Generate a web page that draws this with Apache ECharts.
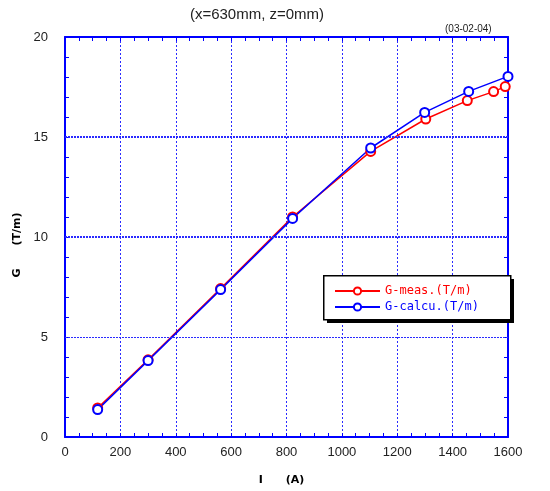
<!DOCTYPE html>
<html>
<head>
<meta charset="utf-8">
<script src="https://cdn.jsdelivr.net/npm/echarts@6/dist/echarts.min.js"></script>
<style>html,body{margin:0;padding:0;background:#fff}#c{width:550px;height:491px}</style>
</head>
<body>
<div id="c"></div>
<script>
var titleText = '(x=630mm, z=0mm)';
var dateText = '(03-02-04)';
var xName = 'I      (A)';
var yName = 'G      (T/m)';
var measName = 'G-meas.(T/m)';
var calcName = 'G-calcu.(T/m)';
var measI = [118, 300, 562, 822, 1104, 1303, 1453, 1548, 1590];
var measG = [1.45, 3.86, 7.42, 11.0, 14.28, 15.9, 16.82, 17.27, 17.52];
var calcI = [118, 300, 562, 822, 1104, 1299, 1458, 1600];
var calcG = [1.37, 3.82, 7.37, 10.93, 14.45, 16.23, 17.28, 18.03];
var hGrid = [5, 10, 15];
var hGridWidth = [1, 2, 2];

function pairs(a, b) { return a.map(function (v, i) { return [v, b[i]]; }); }

var blue = '#0000ff';
var gridBlue = '#2a2aff';
var chart = echarts.init(document.getElementById('c'), null, {renderer: 'canvas'});
var axisCommon = {
  min: 0,
  axisLine: {show: true, onZero: false, lineStyle: {color: blue, width: 2}},
  axisTick: {show: true, inside: true, length: 4, lineStyle: {color: blue}},
  minorTick: {show: true, length: 4, lineStyle: {color: blue}}
};
chart.setOption({
  animation: false,
  title: [
    {text: titleText, left: 252, top: 2, textAlign: 'center',
     textStyle: {fontFamily: 'Liberation Sans', fontSize: 15, fontWeight: 'normal', color: '#222'}},
    {text: dateText, left: 440, top: 19,
     textStyle: {fontFamily: 'Liberation Sans', fontSize: 10, fontWeight: 'normal', color: '#222'}}
  ],
  grid: {left: 65, right: 42, top: 37, bottom: 53},
  graphic: [
    {type: 'rect', left: 327, top: 279, z: 50, silent: true,
     shape: {width: 187, height: 44}, style: {fill: '#000'}},
    {type: 'rect', left: 323, top: 275, z: 51, silent: true,
     shape: {width: 187, height: 44}, style: {fill: '#fff', stroke: '#000', lineWidth: 1.5}}
  ],
  legend: {
    orient: 'vertical', left: 324, top: 277, z: 60,
    padding: [8, 10, 8, 10], itemGap: 4, itemWidth: 45, itemHeight: 9,
    textStyle: {fontFamily: 'DejaVu Sans Mono', fontSize: 12},
    data: [
      {name: measName, textStyle: {color: '#ff0000'}},
      {name: calcName, textStyle: {color: blue}}
    ]
  },
  xAxis: [
    Object.assign({}, axisCommon, {
      type: 'value', max: 1600, interval: 200, position: 'bottom',
      minorTick: {show: true, splitNumber: 4, length: 4, lineStyle: {color: blue}},
      axisLabel: {fontFamily: 'Liberation Sans', fontSize: 13, color: '#222', margin: 9,
                  formatter: function (v) { return String(v); }},
      splitLine: {show: true, lineStyle: {color: gridBlue, type: [2, 2], width: 1}},
      name: xName, nameLocation: 'middle', nameGap: 38,
      nameTextStyle: {fontFamily: 'DejaVu Sans', fontWeight: 'bold', fontSize: 11, color: '#000',
                      padding: [0, 10, 0, 0]}
    }),
    Object.assign({}, axisCommon, {
      type: 'value', max: 1600, interval: 200, position: 'top',
      minorTick: {show: true, splitNumber: 4, length: 4, lineStyle: {color: blue}},
      axisLabel: {show: false}, splitLine: {show: false}
    })
  ],
  yAxis: [
    Object.assign({}, axisCommon, {
      type: 'value', max: 20, interval: 5, position: 'left',
      minorTick: {show: true, splitNumber: 5, length: 4, lineStyle: {color: blue}},
      axisLabel: {fontFamily: 'Liberation Sans', fontSize: 13, color: '#222', margin: 17},
      splitLine: {show: false},
      name: yName, nameLocation: 'middle', nameGap: 41, nameRotate: 90,
      nameTextStyle: {fontFamily: 'DejaVu Sans', fontWeight: 'bold', fontSize: 11, color: '#000',
                      padding: [0, 16, 0, 0]}
    }),
    Object.assign({}, axisCommon, {
      type: 'value', max: 20, interval: 5, position: 'right',
      minorTick: {show: true, splitNumber: 5, length: 4, lineStyle: {color: blue}},
      axisLabel: {show: false}, splitLine: {show: false}
    })
  ],
  series: [
    {
      name: '__grid', type: 'line', data: [], silent: true,
      markLine: {
        silent: true, symbol: 'none', label: {show: false}, animation: false,
        data: hGrid.map(function (v, i) {
          return {yAxis: v, lineStyle: {color: gridBlue, type: [2, 1], width: hGridWidth[i]}};
        })
      }
    },
    {
      name: measName, type: 'line', data: pairs(measI, measG),
      symbol: 'emptyCircle', symbolSize: 9, showAllSymbol: true,
      lineStyle: {color: '#ff0000', width: 1.5},
      itemStyle: {color: '#ff0000', borderWidth: 1.5}
    },
    {
      name: calcName, type: 'line', data: pairs(calcI, calcG),
      symbol: 'emptyCircle', symbolSize: 9, showAllSymbol: true,
      lineStyle: {color: blue, width: 1.5},
      itemStyle: {color: blue, borderWidth: 1.5}
    }
  ]
});
</script>
</body>
</html>
